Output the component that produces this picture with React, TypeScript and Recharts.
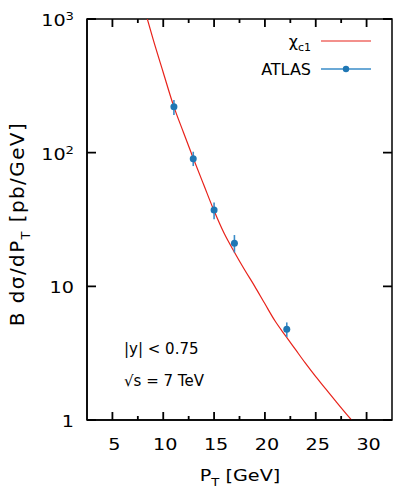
import {
  ComposedChart,
  Line,
  Scatter,
  ErrorBar,
  XAxis,
  YAxis,
  ReferenceArea,
  Customized,
} from "recharts";

// theory curve (chi_c1)
const curveX = [8.4, 9, 10, 11, 12, 13, 14, 15, 16, 17, 18, 19, 20, 21, 22, 23, 24, 25, 26, 27, 28, 29];
const curveY = [1020, 706, 398, 226, 141, 89, 57, 36.7, 24.8, 18.0, 13.3, 10.0, 7.4, 5.5, 4.29, 3.37, 2.65, 2.11, 1.7, 1.37, 1.11, 0.91];

// ATLAS points
const atlasX = [11.05, 12.95, 15, 17, 22.15];
const atlasY = [221, 90, 37.3, 21, 4.77];
const atlasErrLow = [30, 10.6, 5.5, 3.1, 0.6];
const atlasErrHigh = [27, 11.6, 5, 3.2, 0.6];

const xTicks = [5, 10, 15, 20, 25, 30];
const xMinorTicks = [7.5, 12.5, 17.5, 22.5, 27.5];
const yTicks = [1, 10, 100, 1000];

const X_MIN = 2.5;
const X_MAX = 32.5;
const Y_MIN = 1;
const Y_MAX = 1000;

const curveData = curveX.map((x, i) => ({ x, y: curveY[i] }));
const atlasData = atlasX.map((x, i) => ({
  x,
  y: atlasY[i],
  err: [atlasErrLow[i], atlasErrHigh[i]],
}));

const W = 394;
const H = 491;
const MARGIN = { top: 19, right: 2, bottom: 0, left: 0 };
const Y_AXIS_W = 87;
const X_AXIS_H = 71;
// plot box, same as what the axes get
const PL = MARGIN.left + Y_AXIS_W;
const PR = W - MARGIN.right;
const PT = MARGIN.top;
const PB = H - MARGIN.bottom - X_AXIS_H;

const FONT = "DejaVu Sans";
const RED = "#e8221a";
const BLUE = "#1f77b4";
const BLUE_LINE = "#3a8cc8";

// wide tick / title lettering, as in the picture
const Wide = ({ x, y, anchor, size = 16, children }: any) => (
  <text
    transform={`translate(${x} ${y}) scale(1.2 1)`}
    textAnchor={anchor}
    fontSize={size}
    fontFamily={FONT}
    fill="#000"
  >
    {children}
  </text>
);

const BottomLabel = ({ x, y, payload }: any) => (
  <Wide x={Number(x) + 2} y={Number(y) + 30} anchor="middle">
    {payload.value}
  </Wide>
);

const LeftLabel = ({ x, y, payload }: any) => {
  const v = payload.value;
  let label: any = String(v);
  if (v === 100 || v === 1000) {
    label = (
      <>
        10
        <tspan fontSize={11} dy={-6}>
          {v === 100 ? "2" : "3"}
        </tspan>
      </>
    );
  }
  return (
    <Wide x={Number(x) - 13} y={Number(y) + 7} anchor="end">
      {label}
    </Wide>
  );
};

// inward tick marks on all four sides
const Ticks = () => {
  const sx = (v: number) => PL + ((v - X_MIN) / (X_MAX - X_MIN)) * (PR - PL);
  const sy = (v: number) =>
    PB - ((Math.log10(v) - Math.log10(Y_MIN)) / (Math.log10(Y_MAX) - Math.log10(Y_MIN))) * (PB - PT);
  const segs: string[] = [];
  xTicks.forEach((t) => segs.push(`M${sx(t)},${PB}v-8M${sx(t)},${PT}v8`));
  xMinorTicks.forEach((t) => segs.push(`M${sx(t)},${PB}v-4M${sx(t)},${PT}v4`));
  yTicks.forEach((v) => segs.push(`M${PL},${sy(v)}h9M${PR},${sy(v)}h-9`));
  return <path d={segs.join("")} stroke="#000" strokeWidth={1.8} fill="none" />;
};

const Extras = () => (
  <g fontFamily={FONT} fill="#000">
    <Ticks />
    {/* legend */}
    <text x={311} y={47} textAnchor="end" fontSize={16}>
      χ
      <tspan fontSize={11} dy={4}>
        c1
      </tspan>
    </text>
    <line x1={321} x2={371} y1={41} y2={41} stroke={RED} strokeWidth={1.2} />
    <text x={311} y={75} textAnchor="end" fontSize={16}>
      ATLAS
    </text>
    <line x1={321} x2={371} y1={69} y2={69} stroke={BLUE_LINE} strokeWidth={1.3} />
    <circle cx={346} cy={69} r={3.2} fill={BLUE} />
    {/* annotations */}
    <text x={124} y={354} fontSize={15}>
      |y| &lt; 0.75
    </text>
    <text x={124} y={386} fontSize={15}>
      √s = 7 TeV
    </text>
    {/* axis titles */}
    <Wide x={240} y={481} anchor="middle">
      P
      <tspan fontSize={11} dy={5}>
        T
      </tspan>
      <tspan dy={-5}> [GeV]</tspan>
    </Wide>
    <text
      x={0}
      y={0}
      transform="translate(24 224) rotate(-90)"
      textAnchor="middle"
      fontSize={20}
      letterSpacing={1.4}
    >
      B dσ/dP
      <tspan fontSize={13} dy={6}>
        T
      </tspan>
      <tspan dy={-6}> [pb/GeV]</tspan>
    </text>
  </g>
);

export default function App() {
  return (
    <div style={{ position: "absolute", left: 0, top: 0, background: "#fff" }}>
      <ComposedChart width={W} height={H} margin={MARGIN}>
        <XAxis
          xAxisId="b"
          dataKey="x"
          type="number"
          domain={[X_MIN, X_MAX]}
          ticks={xTicks}
          interval={0}
          height={X_AXIS_H}
          tickSize={0}
          tickMargin={0}
          tick={<BottomLabel />}
          tickLine={false}
          axisLine={{ stroke: "#000", strokeWidth: 1.5 }}
          allowDataOverflow
        />
        <YAxis
          yAxisId="l"
          type="number"
          scale="log"
          domain={[Y_MIN, Y_MAX]}
          ticks={yTicks}
          interval={0}
          width={Y_AXIS_W}
          tickSize={0}
          tickMargin={0}
          tick={<LeftLabel />}
          tickLine={false}
          axisLine={{ stroke: "#000", strokeWidth: 1.5 }}
          allowDataOverflow
        />
        <ReferenceArea
          xAxisId="b"
          yAxisId="l"
          x1={X_MIN}
          x2={X_MAX}
          y1={Y_MIN}
          y2={Y_MAX}
          fill="none"
          stroke="#000"
          strokeWidth={1.5}
          ifOverflow="visible"
        />
        <Line
          xAxisId="b"
          yAxisId="l"
          data={curveData}
          dataKey="y"
          type="monotone"
          stroke={RED}
          strokeWidth={1.2}
          dot={false}
          isAnimationActive={false}
        />
        <Scatter
          xAxisId="b"
          yAxisId="l"
          data={atlasData}
          dataKey="y"
          fill={BLUE}
          shape={(p: any) => <circle cx={p.cx} cy={p.cy} r={3.5} fill={BLUE} />}
          isAnimationActive={false}
        >
          <ErrorBar dataKey="err" direction="y" width={0} stroke={BLUE_LINE} strokeWidth={1.6} isAnimationActive={false} />
        </Scatter>
        <Customized component={Extras} />
      </ComposedChart>
    </div>
  );
}
